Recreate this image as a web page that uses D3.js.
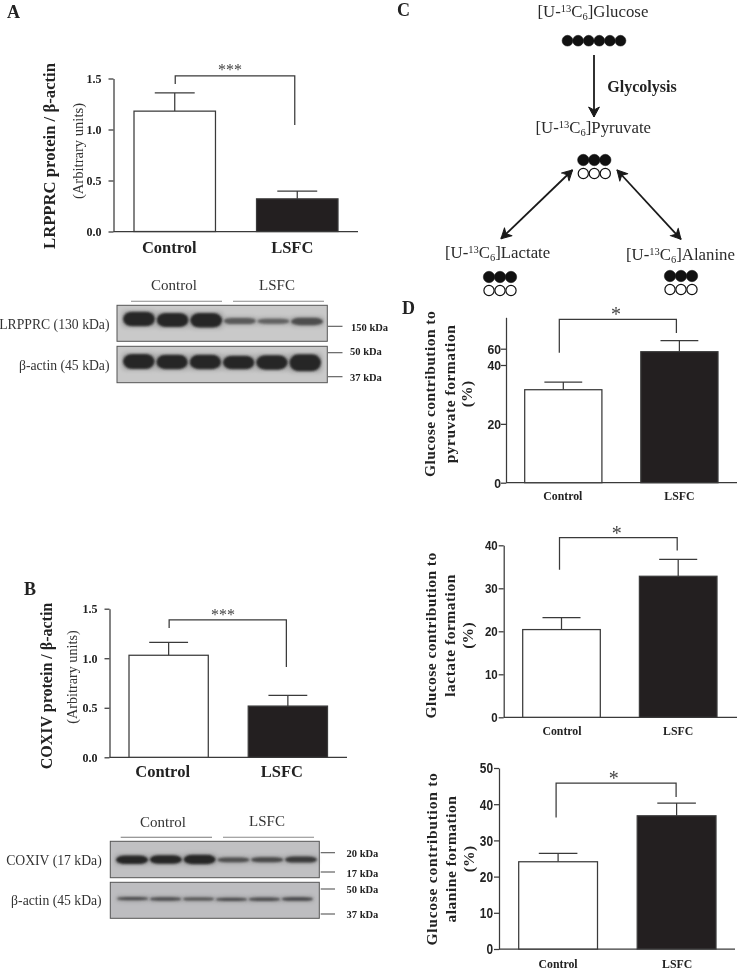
<!DOCTYPE html>
<html><head><meta charset="utf-8">
<script src="https://cdnjs.cloudflare.com/ajax/libs/d3/7.8.5/d3.min.js"></script>
<style>
html,body{margin:0;padding:0;background:#fff}
svg{display:block;filter:blur(0.35px)}
text{font-family:"Liberation Serif",serif;fill:#222}
</style></head><body><div id="chart"></div>
<script>
// ---- data ----
const categories = ["Control","LSFC"];
const proteinTicks = [0,0.5,1,1.5];
const lrpprcMeans = [1.18,0.32];
const lrpprcUpper = [1.358,0.397];
const lrpprcBracket = [1.446,1.525,1.044];
const coxivMeans = [1.03,0.517];
const coxivUpper = [1.16,0.625];
const coxivBracket = [1.305,1.386,0.911];
const pyruvateTicks = [0,20,40,60];
const pyruvateMeans = [31.6,56.3];
const pyruvateUpper = [34.2,70.2];
const pyruvateBracket = [55.1,97.5,80];
const lactateTicks = [0,10,20,30,40];
const lactateMeans = [20.4,32.8];
const lactateUpper = [23.2,36.7];
const lactateBracket = [34.3,41.8,38.8];
const alanineTicks = [0,10,20,30,40,50];
const alanineMeans = [24.1,36.8];
const alanineUpper = [26.4,40.3];
const alanineBracket = [36.3,45.8,42];
const lanes = [0,1,2,3,4,5];
const lrpprcBandDensity = [1,0.95,1,0.35,0.28,0.45];
const lrpprcActinDensity = [1,0.95,0.95,0.9,0.95,1.15];
const coxivBandDensity = [0.95,0.95,1.05,0.42,0.48,0.6];
const coxivActinDensity = [0.42,0.42,0.38,0.42,0.42,0.48];
const lrpprcBandDrift = [0,1,1.3,2,2.3,2.5];
const lrpprcActinDrift = [0,0.5,0.5,1,1,1.3];
const coxivBandDrift = [0.3,0,0,0.3,0.3,0.1];
const coxivActinDrift = [-0.4,0,0,0.4,0.2,0];
const glucoseCarbons = [1,1,1,1,1,1];
const threeCarbons = [1,1,1];

// ---- layout & helpers ----
const W=737,H=972;
const svg=d3.select("#chart").append("svg").attr("width",W).attr("height",H).attr("viewBox",[0,0,W,H]);
const defs=svg.append("defs");
defs.append("filter").attr("id","blur").attr("x","-20%").attr("y","-80%").attr("width","140%").attr("height","260%")
  .append("feGaussianBlur").attr("stdDeviation",1.2);
defs.append("filter").attr("id","halo").attr("x","-20%").attr("y","-100%").attr("width","140%").attr("height","300%")
  .append("feGaussianBlur").attr("stdDeviation",2.2);
defs.append("marker").attr("id","head").attr("viewBox","-12 -7 14 14").attr("markerUnits","userSpaceOnUse")
  .attr("markerWidth",14).attr("markerHeight",14).attr("refX",0).attr("refY",0).attr("orient","auto-start-reverse")
  .append("path").attr("d","M-10,-5.4L0,0L-10,5.4L-7,0Z").attr("fill","#1a1a1a").attr("stroke","#1a1a1a").attr("stroke-width",1).attr("stroke-linejoin","round");

const axisColor="#3a3a3a", sw=1.25;
function rotText(x,y,str,size,bold,fill,ls){
  svg.append("text").attr("transform",`translate(${x},${y}) rotate(-90)`).attr("text-anchor","middle")
    .attr("font-size",size).attr("font-weight",bold?"bold":"normal").attr("fill",fill||"#222")
    .attr("letter-spacing",ls||0).style("fill",fill||"#222").text(str);
}
function text(x,y,str,size,bold,anchor,fill,family){
  const t=svg.append("text").attr("x",x).attr("y",y).attr("font-size",size).attr("font-weight",bold?"bold":"normal")
    .attr("text-anchor",anchor||"start").text(str);
  if(fill) t.style("fill",fill);
  if(family) t.style("font-family",family);
  return t;
}
function barChart(o){
  const g=svg.append("g");
  const x=d3.scaleBand().domain(categories).range(o.xr).paddingInner(.335).paddingOuter(0);
  const y=d3.scaleLinear().domain(o.yd).range(o.yr);
  const ax=d3.axisLeft(y).tickValues(o.ticks).tickSize(o.tickSize||5).tickPadding(o.tickPad)
     .tickFormat(o.fmt).tickSizeOuter(0);
  const ag=g.append("g").attr("transform",`translate(${o.axisX},0)`).call(ax);
  ag.selectAll("path,line").attr("stroke",axisColor).attr("stroke-width",sw);
  ag.selectAll("text").attr("font-size",o.tickFont).attr("font-weight","bold")
     .style("font-family",o.tickFamily).style("fill","#222");
  if(o.digitW) ag.selectAll("text").attr("textLength",function(){return this.textContent.length*o.digitW;}).attr("lengthAdjust","spacingAndGlyphs");
  // x baseline
  g.append("line").attr("x1",o.axisX).attr("x2",o.xEnd).attr("y1",y(0)).attr("y2",y(0)).attr("stroke",axisColor).attr("stroke-width",sw);
  const rows=categories.map((c,i)=>({c,i,m:o.means[i],u:o.upper[i]}));
  // error bars
  const capHalf=x.bandwidth()*.245;
  const er=g.selectAll("g.err").data(rows).join("g").attr("class","err");
  er.append("line").attr("x1",d=>x(d.c)+x.bandwidth()/2).attr("x2",d=>x(d.c)+x.bandwidth()/2)
    .attr("y1",d=>y(d.m)).attr("y2",d=>y(d.u)).attr("stroke",axisColor).attr("stroke-width",sw);
  er.append("line").attr("x1",d=>x(d.c)+x.bandwidth()/2-capHalf).attr("x2",d=>x(d.c)+x.bandwidth()/2+capHalf)
    .attr("y1",d=>y(d.u)).attr("y2",d=>y(d.u)).attr("stroke",axisColor).attr("stroke-width",sw);
  // bars
  g.selectAll("rect.bar").data(rows).join("rect").attr("class","bar")
    .attr("x",d=>x(d.c)).attr("width",x.bandwidth()).attr("y",d=>y(d.m)).attr("height",d=>y(0)-y(d.m))
    .attr("fill",d=>d.i?"#231f20":"#fff").attr("stroke",axisColor).attr("stroke-width",sw);
  // labels
  g.selectAll("text.cat").data(rows).join("text").attr("class","cat")
    .attr("x",d=>x(d.c)+x.bandwidth()/2+o.catDx[d.i]).attr("y",o.catY).attr("text-anchor","middle")
    .attr("font-size",o.catFont).attr("font-weight","bold").text(d=>d.c);
  // bracket
  const [bl,bt,br]=o.bracket;
  const xl=x(categories[0])+x.bandwidth()/2+o.brDx[0], xr=x(categories[1])+x.bandwidth()/2+o.brDx[1];
  g.append("path").attr("fill","none").attr("stroke",axisColor).attr("stroke-width",sw)
    .attr("d",d3.line()([[xl,y(bl)],[xl,y(bt)],[xr,y(bt)],[xr,y(br)]]));
  text(o.star[0],o.star[1],o.starText,o.starFont,false,"middle","#444");
}
const serif='"Liberation Serif",serif', sans='"Liberation Sans",Arial,sans-serif';
const fmt1=d3.format(".1f"), fmt0=d3.format("d");

barChart({xr:[134,338],axisX:113.5,xEnd:358,yd:[0,1.5],yr:[231.5,78.5],ticks:proteinTicks,fmt:fmt1,tickFont:12,tickFamily:serif,tickPad:7,
  means:lrpprcMeans,upper:lrpprcUpper,bracket:lrpprcBracket,brDx:[0.5,-2.5],catDx:[-5.5,-5],catY:253,catFont:16.5,star:[230,75],starText:"***",starFont:16});
barChart({xr:[129,327.5],axisX:109.5,xEnd:347,yd:[0,1.5],yr:[757.3,608.7],ticks:proteinTicks,fmt:fmt1,tickFont:12,tickFamily:serif,tickPad:7,
  means:coxivMeans,upper:coxivUpper,bracket:coxivBracket,brDx:[0.5,-1.5],catDx:[-6,-6],catY:777,catFont:16.5,star:[223,620],starText:"***",starFont:16});
barChart({xr:[524.7,718],axisX:506,xEnd:737,yd:[0,40,60,100],yr:[482.7,365,348.7,317.3],ticks:pyruvateTicks,fmt:fmt0,tickFont:13.5,tickFamily:sans,tickPad:0,digitW:6.8,
  means:pyruvateMeans,upper:pyruvateUpper,bracket:pyruvateBracket,brDx:[-4,-3],catDx:[-0.5,0],catY:500,catFont:11.8,star:[616,321],starText:"*",starFont:20});
barChart({xr:[522.7,717],axisX:503.7,xEnd:737,yd:[0,40],yr:[717.3,545.3],ticks:lactateTicks,fmt:fmt0,tickFont:13.5,tickFamily:sans,tickPad:1,digitW:6.4,
  means:lactateMeans,upper:lactateUpper,bracket:lactateBracket,brDx:[-2,-1],catDx:[0.5,0],catY:735,catFont:11.8,star:[616.7,540],starText:"*",starFont:20});
barChart({xr:[518.7,716],axisX:499,xEnd:735,yd:[0,50],yr:[949,768],ticks:alanineTicks,fmt:fmt0,tickFont:15,tickFamily:sans,tickPad:1,digitW:6.6,
  means:alanineMeans,upper:alanineUpper,bracket:alanineBracket,brDx:[-2,-0.5],catDx:[0,0.5],catY:968,catFont:11.8,star:[613.7,785],starText:"*",starFont:20});

// y titles
rotText(55,156,"LRPPRC protein / β-actin",16.7,true);
rotText(82.5,151,"(Arbitrary units)",14.6,false,"#333");
rotText(52,686,"COXIV protein / β-actin",16,true);
rotText(76.5,677,"(Arbitrary units)",14.2,false,"#333");
[[435,394,"pyruvate"],[435.5,635.5,"lactate"],[436.5,859,"alanine"]].forEach(([x,cy,n],i)=>{
  rotText(x,cy,"Glucose contribution to",15.5,true,"#222",i===2?.75:.45);
  rotText(x+19.5,cy,n+" formation",15.5,true,"#222",.5);
  rotText(x+37,cy,"(%)",15.5,true,"#222",.3);
});

// panel letters
text(7,18,"A",18,true);
text(24,595,"B",18,true);
text(397,16,"C",18,true);
text(402,314,"D",18,true);

// blots
function blot(o){
  const g=svg.append("g");
  g.append("rect").attr("x",o.x0).attr("y",o.y0).attr("width",o.x1-o.x0).attr("height",o.y1-o.y0)
    .attr("fill",o.bg).attr("stroke","#555").attr("stroke-width",1);
  const lane=d3.scaleBand().domain(lanes).range(o.lr).paddingInner(.05).paddingOuter(0);
  const thick=d3.scaleLinear().domain([0,1]).range([1.5,o.maxH]);
  const rows=lanes.map(i=>({i,d:o.density[i],s:o.drift[i]}));
  g.selectAll("rect.halo").data(rows).join("rect").attr("class","halo")
    .attr("x",d=>lane(d.i)-1).attr("width",lane.bandwidth()+2)
    .attr("y",d=>o.cy+d.s-thick(d.d)/2-1).attr("height",d=>thick(d.d)+2)
    .attr("rx",4).attr("fill","#777").attr("opacity",.45).attr("filter","url(#halo)");
  g.selectAll("rect.band").data(rows).join("rect").attr("class","band")
    .attr("x",d=>lane(d.i)).attr("width",lane.bandwidth())
    .attr("y",d=>o.cy+d.s-thick(d.d)/2).attr("height",d=>thick(d.d))
    .attr("rx",d=>Math.min(9,lane.bandwidth()/3)).attr("ry",d=>thick(d.d)/2)
    .attr("fill",d=>d3.interpolateRgb(o.bg,"#262626")(Math.min(1,.42+.75*d.d))).attr("filter","url(#blur)");
}
blot({x0:117,x1:327.3,y0:305.3,y1:341.3,bg:"#c9c9c9",lr:[123,323],cy:319,maxH:14.5,density:lrpprcBandDensity,drift:lrpprcBandDrift});
blot({x0:117,x1:327.3,y0:346.3,y1:382.7,bg:"#c9c9c9",lr:[123,321],cy:361.5,maxH:15,density:lrpprcActinDensity,drift:lrpprcActinDrift});
blot({x0:110.3,x1:319.3,y0:841.3,y1:877.7,bg:"#c0c0c2",lr:[116,317],cy:859.5,maxH:9,density:coxivBandDensity,drift:coxivBandDrift});
blot({x0:110.3,x1:319.3,y0:882.3,y1:918.3,bg:"#bdbdc0",lr:[117,313],cy:899,maxH:6,density:coxivActinDensity,drift:coxivActinDrift});

function rule(x1,x2,y,c){svg.append("line").attr("x1",x1).attr("x2",x2).attr("y1",y).attr("y2",y).attr("stroke",c||"#555").attr("stroke-width",1.1);}
// group headers
text(174,290,"Control",15,false,"middle","#333");
text(277,290,"LSFC",15,false,"middle","#333");
rule(131,222,301.3,"#888"); rule(233,324,301.3,"#888");
text(163,827,"Control",15,false,"middle","#333");
text(267,826,"LSFC",15,false,"middle","#333");
rule(120.7,212,837.3,"#777"); rule(223,314,837.3,"#888");
// lane labels
text(109.5,329,"LRPPRC (130 kDa)",13.7,false,"end","#333");
text(109.5,370,"β-actin (45 kDa)",13.7,false,"end","#333");
text(101.7,865,"COXIV (17 kDa)",13.7,false,"end","#333");
text(101.7,905,"β-actin (45 kDa)",13.7,false,"end","#333");
// markers
[[326.3,330.5,"150 kDa",351],[352.7,355,"50 kDa",350],[376.7,381,"37 kDa",350]].forEach(([ty,by,s,lx])=>{
  rule(328,342.5,ty); text(lx,by,s,10.5,true);
});
[[852.7,856.7,"20 kDa"],[872,876.7,"17 kDa"],[889,892.7,"50 kDa"],[914,918,"37 kDa"]].forEach(([ty,by,s])=>{
  rule(320.7,335,ty); text(346.5,by,s,10.5,true);
});

// panel C
function iso(x,y,name){
  const t=svg.append("text").attr("x",x).attr("y",y).attr("font-size",16.8).style("fill","#2a2a2a");
  t.append("tspan").text("[U-");
  t.append("tspan").attr("font-size",10.5).attr("dy",-5.5).text("13");
  t.append("tspan").attr("dy",5.5).text("C");
  t.append("tspan").attr("font-size",10.5).attr("dy",3).text("6");
  t.append("tspan").attr("dy",-3).text("]"+name);
}
iso(537.5,17,"Glucose");
iso(535.5,133,"Pyruvate");
iso(445,258,"Lactate");
iso(626,260,"Alanine");
text(642,92,"Glycolysis",16,true,"middle");

function dots(arr,x0,step,cy,r,filled){
  const xs=d3.scaleLinear().domain([0,arr.length-1]).range([x0,x0+step*(arr.length-1)]);
  svg.append("g").selectAll("circle").data(arr).join("circle")
    .attr("cx",(d,i)=>xs(i)).attr("cy",cy).attr("r",r)
    .attr("fill",filled?"#111":"#fff").attr("stroke","#111").attr("stroke-width",filled?0.5:1.2);
}
dots(glucoseCarbons,567.5,10.6,40.7,5.4,true);
[[583.3,160],[489,277],[670,276]].forEach(([x,cy])=>{
  dots(threeCarbons,x,11,cy,5.7,true);
  dots(threeCarbons,x,11,cy+13.5,5.1,false);
});
function arrow(x1,y1,x2,y2,both){
  const l=svg.append("line").attr("x1",x1).attr("y1",y1).attr("x2",x2).attr("y2",y2)
    .attr("stroke","#1a1a1a").attr("stroke-width",1.8).attr("marker-end","url(#head)");
  if(both) l.attr("marker-start","url(#head)");
}
arrow(594,55,594,117,false);
arrow(572.5,170,501,238.7,true);
arrow(617,170,681,239.3,true);
</script></body></html>
